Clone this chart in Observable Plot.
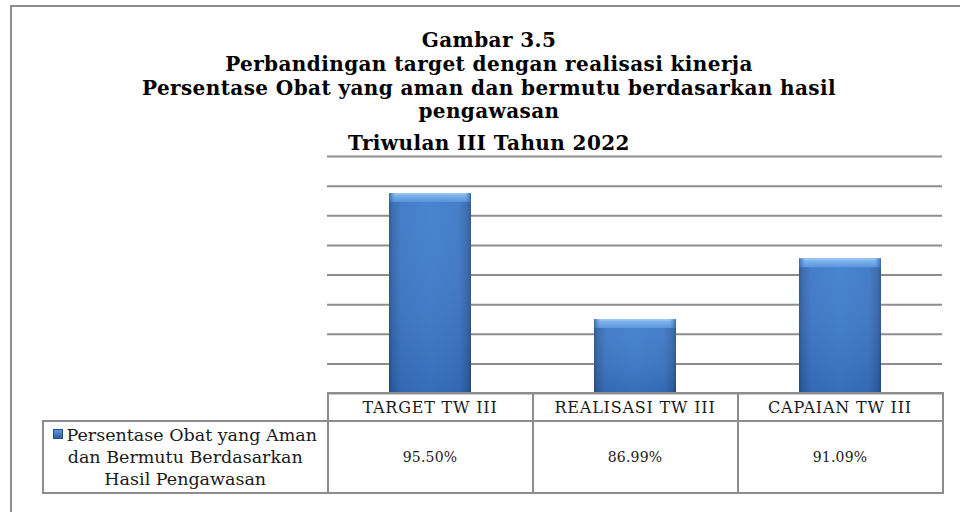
<!DOCTYPE html>
<html><head><meta charset="utf-8">
<script src="https://cdn.jsdelivr.net/npm/d3@7"></script>
<script src="https://cdn.jsdelivr.net/npm/@observablehq/plot@0.6"></script>
<style>
html,body{margin:0;padding:0;width:960px;height:512px;overflow:hidden;background:#fff;}
#wrap{position:relative;width:960px;height:512px;overflow:hidden;}
#frame{position:absolute;left:10px;top:5px;width:1000px;height:600px;border:2px solid #8d8d8d;box-sizing:border-box;}
.tl{position:absolute;left:0;width:978px;text-align:center;font-family:"DejaVu Serif",serif;font-weight:bold;font-size:20px;letter-spacing:0.4px;line-height:22px;color:#000;white-space:nowrap;}
.cell{position:absolute;box-sizing:border-box;border:2px solid #8d8d8d;display:flex;align-items:center;justify-content:center;text-align:center;font-family:"DejaVu Serif",serif;color:#1a1a1a;background:transparent;white-space:nowrap;}
#chart{position:absolute;left:0;top:0;}
</style></head>
<body>
<div id="wrap">
  <div id="frame"></div>
  <div id="chart"></div>
</div>
<script>
// ---- data ----
const titleLines = ["Gambar 3.5", "Perbandingan target dengan realisasi kinerja", "Persentase Obat yang aman dan bermutu berdasarkan hasil", "pengawasan", "Triwulan III Tahun 2022"];
const categories = ["TARGET TW III", "REALISASI TW III", "CAPAIAN TW III"];
const values = [95.50, 86.99, 91.09];
const valueLabels = ["95.50%", "86.99%", "91.09%"];
const seriesName = ["Persentase Obat yang Aman", "dan Bermutu Berdasarkan", "Hasil Pengawasan"];
const yDomain = [82, 98];
const gridTicks = [82, 84, 86, 88, 90, 92, 94, 96, 98];

const data = categories.map((c, i) => ({cat: c, value: values[i], label: valueLabels[i]}));

const chart = Plot.plot({
  width: 960,
  height: 512,
  marginLeft: 327,
  marginRight: 18,
  marginTop: 156,
  marginBottom: 119,
  x: {type: "band", domain: categories, paddingInner: 0.6, paddingOuter: 0.3, axis: null},
  y: {domain: yDomain, axis: null},
  marks: [
    Plot.ruleY(gridTicks, {stroke: "#8d8d8d", strokeWidth: 2}),
    Plot.barY(data, {x: "cat", y1: () => yDomain[0], y2: "value", fill: "url(#barBody)"}),
    Plot.barY(data, {x: "cat", y1: () => yDomain[0], y2: "value", fill: "url(#barShade)"}),
    Plot.barY(data, {x: "cat", y1: d => d.value - 0.6, y2: "value", fill: "url(#barTop)"}),
    Plot.barY(data, {x: "cat", y1: d => d.value - 0.6, y2: "value", fill: "url(#barTopEdge)"})
  ]
});

// gradients
const defs = d3.select(chart).insert("defs", ":first-child");
function grad(id, x2, y2, stops) {
  const g = defs.append("linearGradient").attr("id", id)
    .attr("x1", 0).attr("y1", 0).attr("x2", x2).attr("y2", y2);
  stops.forEach(([o, c, op]) => g.append("stop").attr("offset", o).attr("stop-color", c).attr("stop-opacity", op == null ? 1 : op));
}
grad("barBody", 1, 0, [["0%", "#274f8c"], ["4%", "#3164aa"], ["15%", "#3a76c6"], ["50%", "#3d7ccd"], ["85%", "#3a76c6"], ["96%", "#3164aa"], ["100%", "#274f8c"]]);
grad("barShade", 0, 1, [["0%", "#ffffff", 0.06], ["100%", "#0a1f4a", 0.16]]);
grad("barTop", 0, 1, [["0%", "#a6d0f7"], ["25%", "#7fb4ec"], ["100%", "#5a94dc"]]);
grad("barTopEdge", 1, 0, [["0%", "#2f5f9f", 0.9], ["8%", "#5a94dc", 0.0], ["92%", "#5a94dc", 0.0], ["100%", "#2f5f9f", 0.9]]);

document.getElementById("chart").appendChild(chart);

const wrap = document.getElementById("wrap");

// title lines (baselines)
const baselines = [47, 71, 95, 118, 150];
titleLines.forEach((t, i) => {
  const d = document.createElement("div");
  d.className = "tl";
  d.textContent = t;
  d.style.top = (baselines[i] - 17.9) + "px";
  wrap.appendChild(d);
});

// data table aligned with the x scale
const xs = chart.scale("x");
const sx = Plot.scale({x: xs});
const step = sx.step, bw = sx.bandwidth;
const y0 = 392, yH = 420, yB = 494;
categories.forEach((c, i) => {
  const left = sx.apply(c) - (step - bw) / 2;
  const h = document.createElement("div");
  h.className = "cell";
  h.style.cssText += `left:${left - 1}px;top:${y0}px;width:${step + 2}px;height:${yH - y0 + 2}px;font-size:16px;letter-spacing:0.8px;`;
  h.textContent = c;
  wrap.appendChild(h);
  const v = document.createElement("div");
  v.className = "cell";
  v.style.cssText += `left:${left - 1}px;top:${yH}px;width:${step + 2}px;height:${yB - yH}px;font-size:14px;letter-spacing:0.2px;`;
  v.textContent = valueLabels[i];
  wrap.appendChild(v);
});
const firstLeft = sx.apply(categories[0]) - (step - bw) / 2;
const lg = document.createElement("div");
lg.className = "cell";
lg.style.cssText += `left:42px;top:${yH}px;width:${firstLeft - 42 + 1}px;height:${yB - yH}px;font-size:17.5px;line-height:22px;`;
lg.innerHTML = `<div><span style="display:inline-block;width:8px;height:8px;margin-right:3px;vertical-align:2px;background:linear-gradient(#5b95dc,#2d5fa5);border:0.5px solid #24508f"></span>${seriesName[0]}<br>${seriesName[1]}<br>${seriesName[2]}</div>`;
wrap.appendChild(lg);
</script>
</body></html>
